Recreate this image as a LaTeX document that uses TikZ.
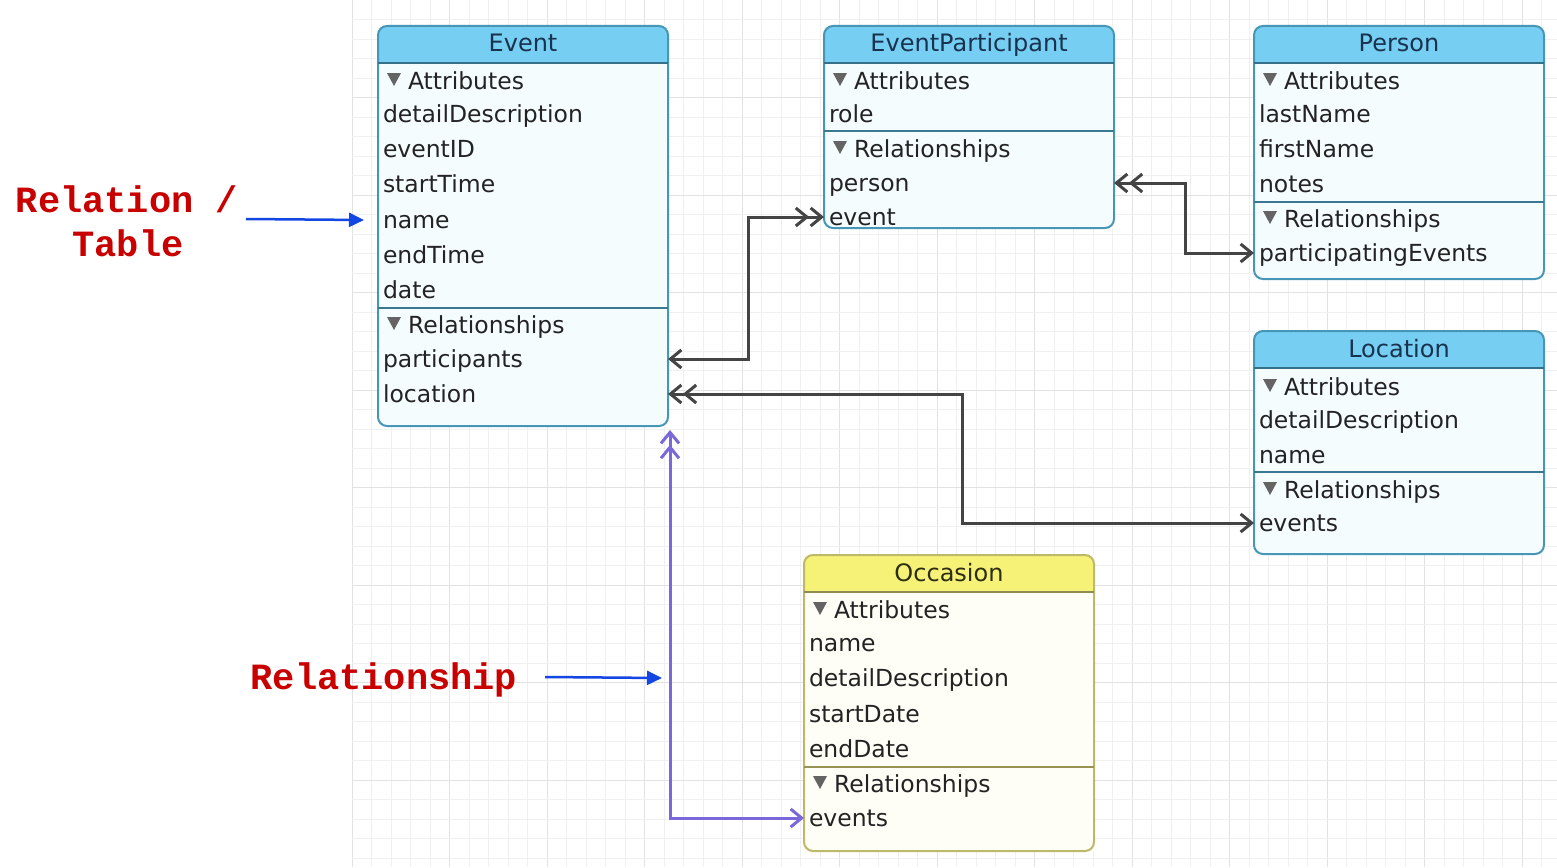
\documentclass[tikz,border=0pt]{standalone}
\usepackage{fontspec}
\setmainfont{DejaVu Sans}
\newfontfamily\annfont{Liberation Mono}
\usetikzlibrary{arrows.meta}
\definecolor{hdrblue}{RGB}{118,206,243}
\definecolor{bdblue}{RGB}{72,150,182}
\definecolor{hdryel}{RGB}{246,242,120}
\definecolor{bdyel}{RGB}{190,184,105}
\definecolor{ttlblue}{RGB}{25,50,78}
\definecolor{ttlyel}{RGB}{45,45,20}
\definecolor{txt}{RGB}{35,35,35}
\definecolor{lnk}{RGB}{68,68,68}
\definecolor{purp}{RGB}{122,104,218}
\definecolor{annred}{RGB}{200,0,0}
\definecolor{annblue}{RGB}{20,70,228}
\definecolor{gridminor}{RGB}{240,240,240}
\definecolor{gridmajor}{RGB}{226,226,226}
\definecolor{trigray}{RGB}{100,100,100}
\tikzset{
  ebody/.style={draw=none, inner sep=0pt, outer sep=0pt, minimum width=290pt, anchor=north west},
  rowtxt/.style={anchor=base west, inner sep=0pt, outer sep=0pt, text height=20pt, text depth=4pt,
    text=txt, font=\fontsize{23.5}{28}\selectfont},
  ttltxt/.style={anchor=base, inner sep=0pt, font=\fontsize{24}{28}\selectfont},
  conn/.style={draw=lnk, line width=3pt},
  pconn/.style={draw=purp, line width=3pt},
  ann/.style={anchor=base, inner sep=0pt, text=annred, font=\annfont\bfseries\fontsize{37}{40}\selectfont},
  annarrow/.style={draw=annblue, line width=2.5pt, -{Triangle[length=15pt,width=14pt]}},
  sb/.tip={Straight Barb[length=11pt,width=18pt]},
}
% entity: id, left x, top y, bottom y, header colour, border colour, title colour, title
\newcommand\mkentity[8]{%
  \node[ebody, fill=#5!7!white, minimum height={(#4-#3)*1pt}] (#1) at (#2,#3) {};
  \begin{scope}
    \clip (#1.north west) rectangle ([yshift=-37pt]#1.north east);
    \fill[#5, rounded corners=9pt] (#1.north west) rectangle (#1.south east);
  \end{scope}
  \draw[#6, line width=2pt, rounded corners=9pt] (#1.north west) rectangle (#1.south east);
  \draw[#6!75!black, line width=1.6pt] ([yshift=-37pt]#1.north west) -- ([yshift=-37pt]#1.north east);
  \node[ttltxt, text=#7] (#1-title) at ([yshift=-26pt]#1.north) {#8};
}
\newcommand\mksep[3]{\draw[#2!80!black, line width=1.6pt] (#1.west |- 0,#3) -- (#1.east |- 0,#3);}
\newcommand\mktri[2]{\fill[trigray] ({#1+9},{#2-16}) -- ({#1+23},{#2-16}) -- ({#1+16},{#2-3}) -- cycle;}
\newcommand\mkrow[4]{\node[rowtxt] (#1) at (#2,#3) {#4};}
\begin{document}
\begin{tikzpicture}[x=1pt,y=-1pt]
\useasboundingbox (0,0) rectangle (1557,867);
\fill[white] (0,0) rectangle (1557,867);
% grid
\foreach \i in {0,...,62} {
  \pgfmathtruncatemacro\m{mod(\i,5)}
  \ifnum\m=0 \draw[gridmajor, line width=1pt] ({352+\i*19.5},0) -- ({352+\i*19.5},867);
  \else \draw[gridminor, line width=0.8pt] ({352+\i*19.5},0) -- ({352+\i*19.5},867); \fi
}
\foreach \j in {0,...,44} {
  \pgfmathtruncatemacro\m{mod(\j,5)}
  \ifnum\m=0 \draw[gridmajor, line width=1pt] (352,{\j*19.5}) -- (1557,{\j*19.5});
  \else \draw[gridminor, line width=0.8pt] (352,{\j*19.5}) -- (1557,{\j*19.5}); \fi
}

% ---------- Event ----------
\mkentity{ev}{378}{26}{426}{hdrblue}{bdblue}{ttlblue}{Event}
\mktri{378}{89}
\mkrow{ev-attr}{408}{89}{Attributes}
\mkrow{ev-detail}{383}{122}{detailDescription}
\mkrow{ev-id}{383}{157}{eventID}
\mkrow{ev-start}{383}{192}{startTime}
\mkrow{ev-name}{383}{228}{name}
\mkrow{ev-end}{383}{263}{endTime}
\mkrow{ev-date}{383}{298}{date}
\mksep{ev}{bdblue}{308}
\mktri{378}{333}
\mkrow{ev-rel}{408}{333}{Relationships}
\mkrow{ev-participants}{383}{367}{participants}
\mkrow{ev-location}{383}{402}{location}

% ---------- EventParticipant ----------
\mkentity{ep}{824}{26}{228}{hdrblue}{bdblue}{ttlblue}{EventParticipant}
\mktri{824}{89}
\mkrow{ep-attr}{854}{89}{Attributes}
\mkrow{ep-role}{829}{122}{role}
\mksep{ep}{bdblue}{131}
\mktri{824}{157}
\mkrow{ep-rel}{854}{157}{Relationships}
\mkrow{ep-person}{829}{191}{person}
\mkrow{ep-event}{829}{225}{event}

% ---------- Person ----------
\mkentity{pe}{1254}{26}{279}{hdrblue}{bdblue}{ttlblue}{Person}
\mktri{1254}{89}
\mkrow{pe-attr}{1284}{89}{Attributes}
\mkrow{pe-last}{1259}{122}{lastName}
\mkrow{pe-first}{1259}{157}{firstName}
\mkrow{pe-notes}{1259}{192}{notes}
\mksep{pe}{bdblue}{202}
\mktri{1254}{227}
\mkrow{pe-rel}{1284}{227}{Relationships}
\mkrow{pe-partev}{1259}{261}{participatingEvents}

% ---------- Location ----------
\mkentity{lo}{1254}{331}{554}{hdrblue}{bdblue}{ttlblue}{Location}
\mktri{1254}{395}
\mkrow{lo-attr}{1284}{395}{Attributes}
\mkrow{lo-detail}{1259}{428}{detailDescription}
\mkrow{lo-name}{1259}{463}{name}
\mksep{lo}{bdblue}{472}
\mktri{1254}{498}
\mkrow{lo-rel}{1284}{498}{Relationships}
\mkrow{lo-events}{1259}{531}{events}

% ---------- Occasion ----------
\mkentity{oc}{804}{555}{851}{hdryel}{bdyel}{ttlyel}{Occasion}
\mktri{804}{618}
\mkrow{oc-attr}{834}{618}{Attributes}
\mkrow{oc-name}{809}{651}{name}
\mkrow{oc-detail}{809}{686}{detailDescription}
\mkrow{oc-start}{809}{722}{startDate}
\mkrow{oc-end}{809}{757}{endDate}
\mksep{oc}{bdyel}{767}
\mktri{804}{792}
\mkrow{oc-rel}{834}{792}{Relationships}
\mkrow{oc-events}{809}{826}{events}

% ---------- connectors ----------
\draw[conn, {sb}-{sb[]sb}]
  (ev.east |- ev-participants) -- ++(80,0) |- (ep.west |- ep-event);
\draw[conn, {sb[]sb}-{sb}]
  (ev.east |- ev-location) -- ++(294,0) |- (lo.west |- lo-events);
\draw[conn, {sb[]sb}-{sb}]
  (ep.east |- ep-person) -- ++(71,0) |- (pe.west |- pe-partev);
\coordinate (evtip) at (670,430);
\draw[pconn, {sb}-{sb[]sb}]
  (oc.west |- oc-events) -| (evtip);

% ---------- annotations ----------
\node[ann] (ann1) at (127,212) {Relation /};
\node[ann] (ann2) at (128,256) {Table};
\coordinate (a1from) at (246,219);
\coordinate (a1to) at (364,220);
\draw[annarrow] (a1from) -- (a1to);
\node[ann] (ann3) at (384,689) {Relationship};
\coordinate (a3from) at (545,677);
\coordinate (a3to) at (662,678);
\draw[annarrow] (a3from) -- (a3to);
\end{tikzpicture}
\end{document}
